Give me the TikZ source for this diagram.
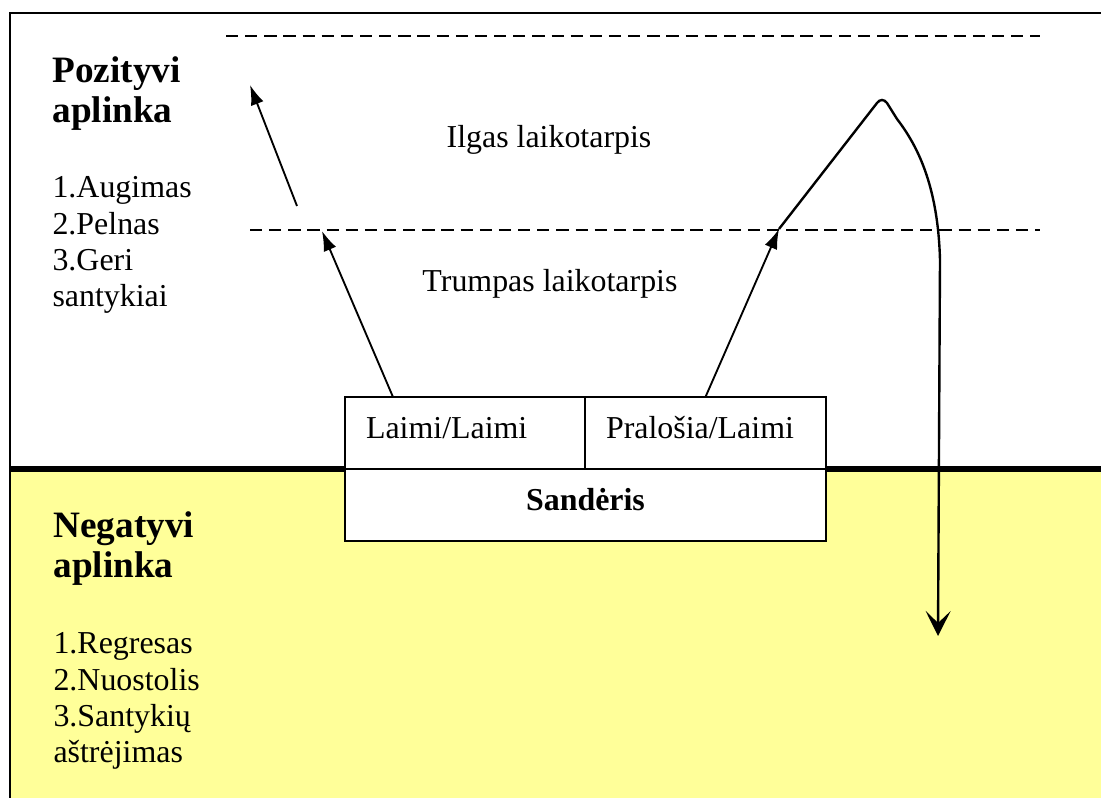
\documentclass[tikz,border=0pt]{standalone}
\usepackage{fontspec}
\setmainfont{Liberation Serif}
\usetikzlibrary{arrows.meta,positioning,calc}
\definecolor{negyellow}{HTML}{FFFF99}
\begin{document}
\begin{tikzpicture}[x=0.376pt,y=-0.376pt,
	txt/.style={inner sep=0pt,font=\fontsize{12}{13.7}\selectfont,align=left},
	head/.style={inner sep=0pt,font=\fontsize{14}{15.4}\selectfont\bfseries,align=left},
	cell/.style={draw,line width=0.6pt,fill=white,outer sep=0pt,minimum height=27.07pt,inner xsep=7.9pt,inner ysep=0pt,text height=7.5pt,text depth=3.5pt,font=\fontsize{12}{14}\selectfont},
	termline/.style={dash pattern=on 4.6pt off 2.6pt,line width=0.8pt},
	arr/.style={-{Latex[length=7.5pt,width=5pt]},line width=0.7pt}]
		\useasboundingbox (0,0) rectangle (1101,798);
		\fill[negyellow] (10,469) rectangle (1101,798);
		\draw[line width=0.75pt] (1101,13) -- (10,13) -- (10,798);
		\draw[line width=1.9pt] (10,469) -- (1101,469);
		\draw[termline] (226,36) -- (1040,36);
		\draw[termline] (250,230) -- (1040,230);
		\node[head,anchor=base west] (poshead) at (52,123) {Pozityvi\\aplinka};
		\node[txt,anchor=base west] (poslist) at (52,307) {1.Augimas\\2.Pelnas\\3.Geri\\santykiai};
		\node[head,anchor=base west] (neghead) at (53,578) {Negatyvi\\aplinka};
		\node[txt,anchor=base west] (neglist) at (53,763) {1.Regresas\\2.Nuostolis\\3.Santykių\\aštrėjimas};
		\node[txt,anchor=base] (longterm) at (549,148) {Ilgas laikotarpis};
		\node[txt,anchor=base] (shortterm) at (550,292) {Trumpas laikotarpis};
		\node[cell,anchor=north west,text width=74.44pt,align=left] (winwin) at (345,397) {Laimi/Laimi};
		\node[cell,right=0pt of winwin,text width=74.8pt,align=left] (losewin) {Pralošia/Laimi};
		\node[cell,below=0pt of winwin.south west,anchor=north west,minimum width=180.86pt,font=\fontsize{12}{14}\selectfont\bfseries] (deal) {Sandėris};
		\coordinate (shorttip) at (322,231);
		\coordinate (longfoot) at (297,206);
		\coordinate (longtip) at (250,85);
		\coordinate (turn) at (779,229);
		\coordinate (downtip) at (938,636);
		\draw[arr] ($(winwin.north west)!0.2!(winwin.north east)$) -- (shorttip);
		\draw[arr] (longfoot) -- (longtip);
		\draw[arr] (losewin.north) -- (turn);
		\draw[line width=0.9pt,-{Stealth[length=9.4pt,width=9.4pt,inset=4.5pt]}] (turn) -- (877,103) .. controls (880,99) and (884,99) .. (887,103) -- (897,119) .. controls (917,145) and (938,185) .. (940,260) -- (downtip);
	\end{tikzpicture}
\end{document}
